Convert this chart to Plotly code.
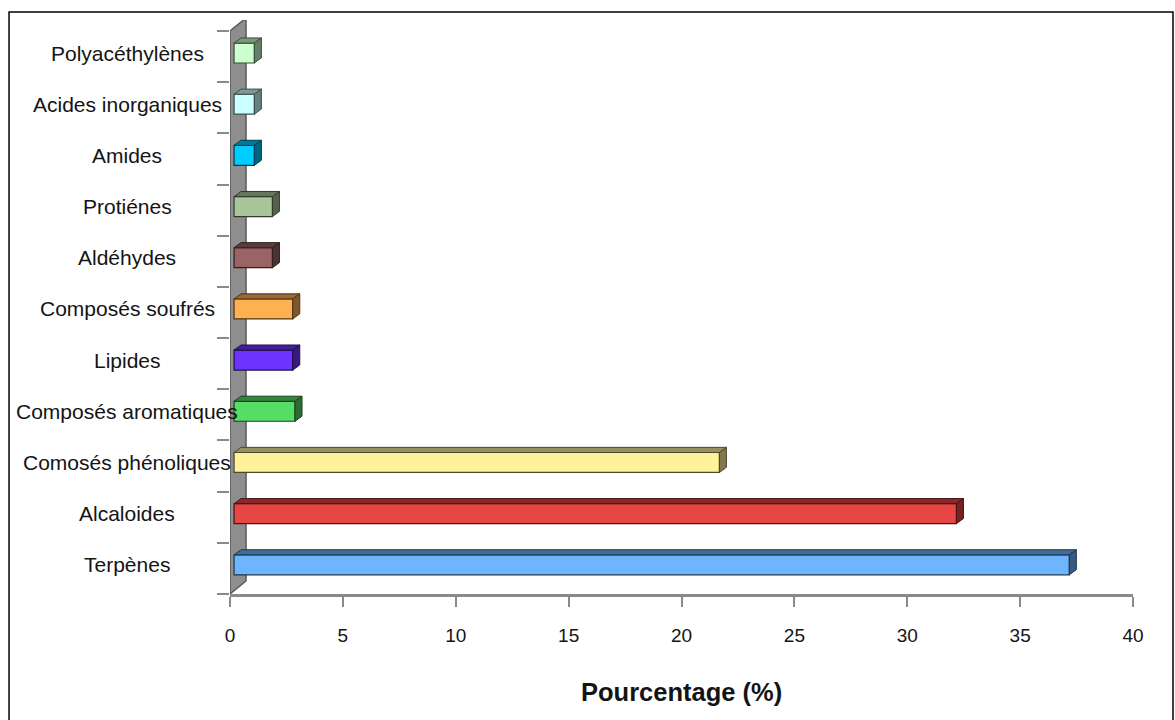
import plotly.graph_objects as go

# Chemical families (bottom to top) and their share in percent
categories = [
    "Terpènes", "Alcaloides", "Comosés phénoliques", "Composés aromatiques",
    "Lipides", "Composés soufrés", "Aldéhydes", "Protiénes", "Amides",
    "Acides inorganiques", "Polyacéthylènes",
]
values = [37, 32, 21.5, 2.7, 2.6, 2.6, 1.7, 1.7, 0.9, 0.9, 0.9]
colors = [
    "#6DB6FF", "#E84545", "#FFF29A", "#55DD66", "#6E33FF", "#FFB152",
    "#9B6464", "#A9C59A", "#00CCFF", "#CCFFFF", "#CCFFCC",
]
x_ticks = [0, 5, 10, 15, 20, 25, 30, 35, 40]

# Oblique "3D" look: front face offset, depth of top/side faces, wall depth
BASE = 0.18
DX, DY = 0.31, 0.10
BAR_W = 0.39
SHIFT = 0.07
WALL_DX, WALL_DY = 0.71, 0.254

FONT = "Liberation Sans, Arial, sans-serif"


def shade(hex_color, k):
    h = hex_color.lstrip("#")
    r, g, b = (int(h[i:i + 2], 16) for i in (0, 2, 4))
    return "rgb({},{},{})".format(int(r * k), int(g * k), int(b * k))


fig = go.Figure()

for i, (cat, v, col) in enumerate(zip(categories, values, colors)):
    y0 = i + SHIFT - BAR_W / 2
    y1 = i + SHIFT + BAR_W / 2
    x0 = BASE
    x1 = BASE + v
    edge = shade(col, 0.3)
    # front face
    fig.add_trace(go.Bar(
        y=[i], x=[v], base=[BASE], orientation="h",
        width=BAR_W, offset=SHIFT - BAR_W / 2,
        marker=dict(color=col, line=dict(color=edge, width=1.2)),
        name=cat, hoverinfo="x+name",
    ))
    # top face
    fig.add_trace(go.Scatter(
        x=[x0, x1, x1 + DX, x0 + DX, x0],
        y=[y1, y1, y1 + DY, y1 + DY, y1],
        mode="lines", fill="toself", fillcolor=shade(col, 0.6),
        line=dict(color=edge, width=1), hoverinfo="skip",
    ))
    # side face
    fig.add_trace(go.Scatter(
        x=[x1, x1 + DX, x1 + DX, x1, x1],
        y=[y0, y0 + DY, y1 + DY, y1, y0],
        mode="lines", fill="toself", fillcolor=shade(col, 0.5),
        line=dict(color=edge, width=1), hoverinfo="skip",
    ))

n = len(categories)
y_lo, y_hi = -0.5, n - 0.5

shapes = [
    # grey side wall behind the bars
    dict(
        type="path", xref="x", yref="y", layer="below",
        path="M 0,{a} L 0,{b} L {dx},{bd} L {dx},{ad} Z".format(
            a=y_lo, b=y_hi, dx=WALL_DX, ad=y_lo + WALL_DY, bd=y_hi + WALL_DY),
        fillcolor="#8E8E8E", line=dict(color="#5a5a5a", width=1.5),
    ),
    # outer frame
    dict(
        type="rect", xref="paper", yref="paper",
        x0=-0.2447, x1=1.0443, y0=-0.27, y1=1.0139,
        line=dict(color="#000000", width=1.5), fillcolor="rgba(0,0,0,0)",
    ),
]

annotations = [
    dict(
        x=-0.114, xref="paper", y=i + SHIFT, yref="y",
        text=cat, showarrow=False, xanchor="center", yanchor="middle",
        font=dict(family=FONT, size=21, color="#141414"),
    )
    for i, cat in enumerate(categories)
]
annotations.append(dict(
    x=0.5, xref="paper", y=-0.1707, yref="paper",
    text="<b>Pourcentage (%)</b>", showarrow=False,
    xanchor="center", yanchor="middle",
    font=dict(family=FONT, size=25.5, color="#141414"),
))

fig.update_layout(
    width=1175, height=720,
    margin=dict(l=230, r=42, t=20, b=126),
    paper_bgcolor="white", plot_bgcolor="white",
    showlegend=False, barmode="overlay",
    shapes=shapes, annotations=annotations,
    xaxis=dict(
        range=[0, 40], tickvals=x_ticks, ticktext=[str(t) for t in x_ticks],
        ticks="outside", ticklen=10, tickwidth=2, tickcolor="#8a8a8a",
        showline=True, linecolor="#8a8a8a", linewidth=2.5,
        showgrid=False, zeroline=False,
        tickfont=dict(family=FONT, size=19, color="#141414"),
        ticklabelstandoff=12,
    ),
    yaxis=dict(
        range=[y_lo, y_hi + 0.215],
        tickvals=[k - 0.5 for k in range(n + 1)],
        ticks="outside", ticklen=12, tickwidth=2, tickcolor="#8a8a8a",
        showticklabels=False, showgrid=False, zeroline=False, showline=False,
    ),
)

fig.write_html("out.html")
